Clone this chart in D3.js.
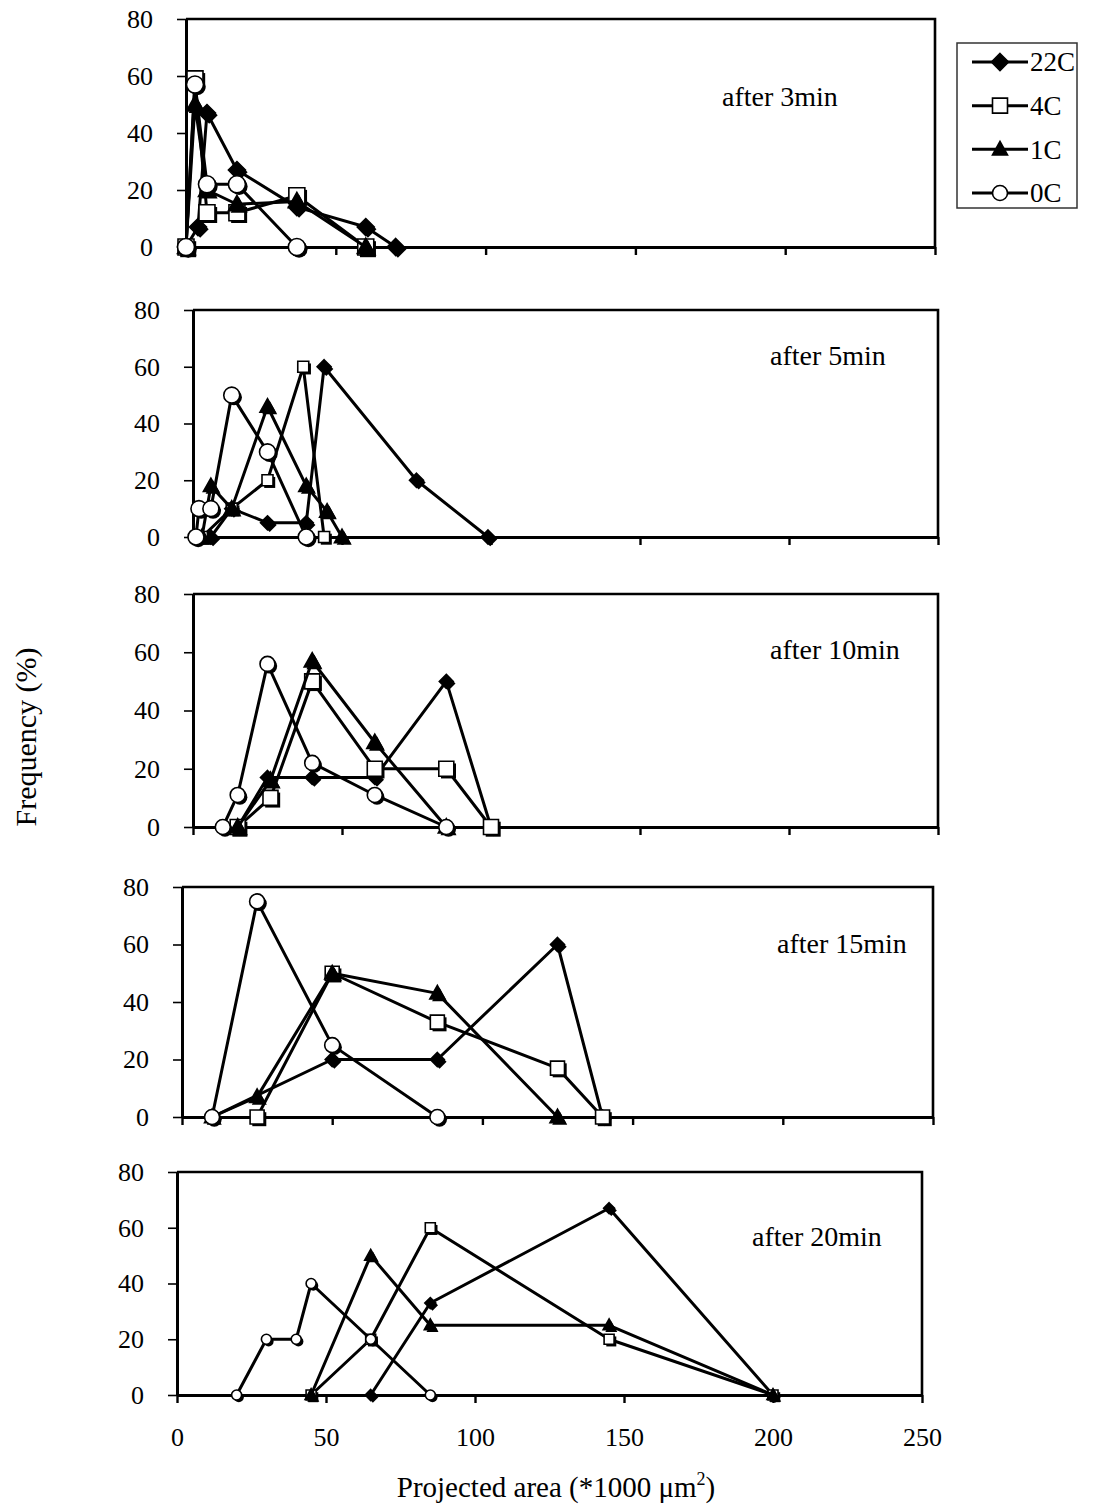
<!DOCTYPE html>
<html>
<head>
<meta charset="utf-8">
<script src="https://cdn.jsdelivr.net/npm/d3@7"></script>
<style>
  body { margin: 0; background: #fff; }
  text { font-family: "Liberation Serif", "Times New Roman", serif; fill: #000; }
</style>
</head>
<body>
<svg id="chart" width="1094" height="1510"></svg>
<script>
// ---- data -------------------------------------------------------------
const seriesNames = ["22C", "4C", "1C", "0C"];
const panelTitles = ["after 3min", "after 5min", "after 10min", "after 15min", "after 20min"];
const xTickValues = [0, 50, 100, 150, 200, 250];
const yTickValues = [0, 20, 40, 60, 80];

// [projected area (*1000 um2), frequency %]
const t3_22C = [[0, 0], [4, 7], [7, 47], [17, 27], [37, 14], [60, 7], [70, 0]];
const t3_4C  = [[0, 0], [3, 59], [7, 12], [17, 12], [37, 18], [60, 0]];
const t3_1C  = [[0, 0], [3, 50], [7, 20], [17, 15], [37, 16], [60, 0]];
const t3_0C  = [[0, 0], [3, 57], [7, 22], [17, 22], [37, 0]];

const t5_22C = [[6, 0], [13, 10], [25, 5], [38, 5], [44, 60], [75, 20], [99, 0]];
const t5_4C  = [[3, 0], [13, 10], [25, 20], [37, 60], [44, 0]];
const t5_1C  = [[3, 0], [6, 18], [13, 10], [25, 46], [38, 18], [45, 9], [50, 0]];
const t5_0C  = [[1, 0], [2, 10], [6, 10], [13, 50], [25, 30], [38, 0]];

const t10_22C = [[15, 0], [25, 17], [40, 17], [61, 17], [85, 50], [100, 0]];
const t10_4C  = [[15, 0], [26, 10], [40, 50], [61, 20], [85, 20], [100, 0]];
const t10_1C  = [[15, 0], [26, 16], [40, 57], [61, 29], [85, 0]];
const t10_0C  = [[10, 0], [15, 11], [25, 56], [40, 22], [61, 11], [85, 0]];

const t15_22C = [[10, 0], [50, 20], [85, 20], [125, 60], [140, 0]];
const t15_4C  = [[25, 0], [50, 50], [85, 33], [125, 17], [140, 0]];
const t15_1C  = [[10, 0], [25, 7], [50, 50], [85, 43], [125, 0]];
const t15_0C  = [[10, 0], [25, 75], [50, 25], [85, 0]];

const t20_22C = [[65, 0], [85, 33], [145, 67], [200, 0]];
const t20_4C  = [[45, 0], [65, 20], [85, 60], [145, 20], [200, 0]];
const t20_1C  = [[45, 0], [65, 50], [85, 25], [145, 25], [200, 0]];
const t20_0C  = [[20, 0], [30, 20], [40, 20], [45, 40], [65, 20], [85, 0]];

const panelSeries = [
  [t3_22C, t3_4C, t3_1C, t3_0C],
  [t5_22C, t5_4C, t5_1C, t5_0C],
  [t10_22C, t10_4C, t10_1C, t10_0C],
  [t15_22C, t15_4C, t15_1C, t15_0C],
  [t20_22C, t20_4C, t20_1C, t20_0C]
];

// ---- layout -----------------------------------------------------------
// plot box of each panel, title anchor, and marker sizes [diamond, square, triangle, circle]
const panelLayout = [
  { left: 186, right: 935, top: 19,   bottom: 247,  tx: 722, ty: 106,  ms: [17, 16, 17, 17] },
  { left: 193, right: 938, top: 310,  bottom: 537,  tx: 770, ty: 365,  ms: [14, 11, 15, 16] },
  { left: 193, right: 938, top: 594,  bottom: 827,  tx: 770, ty: 659,  ms: [14, 15, 16, 15] },
  { left: 182, right: 933, top: 887,  bottom: 1117, tx: 777, ty: 953,  ms: [14, 14, 15, 15] },
  { left: 177, right: 922, top: 1172, bottom: 1395, tx: 752, ty: 1246, ms: [11, 10, 12, 10] }
];

const svg = d3.select("#chart");

// marker path generators, centred on 0,0, sized by full width s
const markerPath = [
  s => { const r = s / 2; return `M0,${-r}L${r},0L0,${r}L${-r},0Z`; },
  s => { const r = s / 2; return `M${-r},${-r}H${r}V${r}H${-r}Z`; },
  s => { const r = s / 2; return `M0,${-r * 1.05}L${r},${r * 0.75}L${-r},${r * 0.75}Z`; },
  s => { const r = s / 2; return `M${r},0A${r},${r} 0 1,1 ${-r},0A${r},${r} 0 1,1 ${r},0Z`; }
];
const markerFill = ["#000", "#fff", "#000", "#fff"];

function drawMarker(g, i, s, x, y) {
  const p = markerPath[i](s);
  g.append("path").attr("d", p)
    .attr("transform", `translate(${x + 2.2},${y + 2.2})`)
    .attr("fill", "#000");
  g.append("path").attr("d", p)
    .attr("transform", `translate(${x},${y})`)
    .attr("fill", markerFill[i])
    .attr("stroke", "#000").attr("stroke-width", 1.6);
}

panelLayout.forEach((L, pi) => {
  const x = d3.scaleLinear().domain([0, 250]).range([L.left, L.right]);
  const y = d3.scaleLinear().domain([0, 80]).range([L.bottom, L.top]);
  const g = svg.append("g");

  // top and right frame
  g.append("path")
    .attr("d", `M${L.left},${L.top}H${L.right}V${L.bottom}`)
    .attr("fill", "none").attr("stroke", "#000").attr("stroke-width", 2.6);

  // y axis
  const ya = g.append("g").attr("transform", `translate(${L.left},0)`)
    .call(d3.axisLeft(y).tickValues(yTickValues).tickSize(9).tickPadding(24).tickSizeOuter(0));
  ya.select(".domain").attr("stroke-width", 3);
  ya.selectAll(".tick line").attr("stroke-width", 1.6);
  ya.selectAll("text").attr("font-size", 26).attr("font-family", "Liberation Serif");

  // x axis
  const isLast = pi === panelLayout.length - 1;
  const xa = g.append("g").attr("transform", `translate(0,${L.bottom})`)
    .call(d3.axisBottom(x).tickValues(xTickValues).tickSize(8).tickPadding(25).tickSizeOuter(0)
      .tickFormat(isLast ? d3.format("d") : () => ""));
  xa.select(".domain").attr("stroke-width", 3);
  xa.selectAll(".tick line").attr("stroke-width", 2.4);
  xa.selectAll("text").attr("font-size", 26).attr("font-family", "Liberation Serif");

  // series: line then markers, in legend order
  const line = d3.line().x(d => x(d[0])).y(d => y(d[1]));
  panelSeries[pi].forEach((data, si) => {
    const sg = g.append("g");
    sg.append("path").attr("d", line(data))
      .attr("fill", "none").attr("stroke", "#000").attr("stroke-width", 3)
      .attr("stroke-linejoin", "round");
    data.forEach(d => drawMarker(sg, si, L.ms[si], x(d[0]), y(d[1])));
  });

  g.append("text").attr("x", L.tx).attr("y", L.ty)
    .attr("font-size", 28).text(panelTitles[pi]);
});

// legend
const lg = svg.append("g");
lg.append("rect").attr("x", 957).attr("y", 43).attr("width", 120).attr("height", 165)
  .attr("fill", "#fff").attr("stroke", "#333").attr("stroke-width", 1.5);
const legendY = d3.scalePoint().domain(seriesNames).range([62, 193]);
seriesNames.forEach((name, i) => {
  const yy = legendY(name);
  lg.append("line").attr("x1", 972).attr("x2", 1028).attr("y1", yy).attr("y2", yy)
    .attr("stroke", "#000").attr("stroke-width", 3);
  const p = markerPath[i](i === 0 ? 17 : 15);
  lg.append("path").attr("d", p).attr("transform", `translate(1000,${yy})`)
    .attr("fill", markerFill[i]).attr("stroke", "#000").attr("stroke-width", 1.6);
  lg.append("text").attr("x", 1030).attr("y", yy).attr("dy", "0.35em")
    .attr("font-size", 27).text(name);
});

// axis titles
svg.append("text").attr("transform", "translate(36,737) rotate(-90)")
  .attr("text-anchor", "middle").attr("font-size", 30).text("Frequency (%)");
const xt = svg.append("text").attr("x", 556).attr("y", 1497)
  .attr("text-anchor", "middle").attr("font-size", 29);
xt.append("tspan").text("Projected area (*1000 \u03bcm");
xt.append("tspan").attr("font-size", 18).attr("dy", -12).text("2");
xt.append("tspan").attr("dy", 12).text(")");
</script>
</body>
</html>
